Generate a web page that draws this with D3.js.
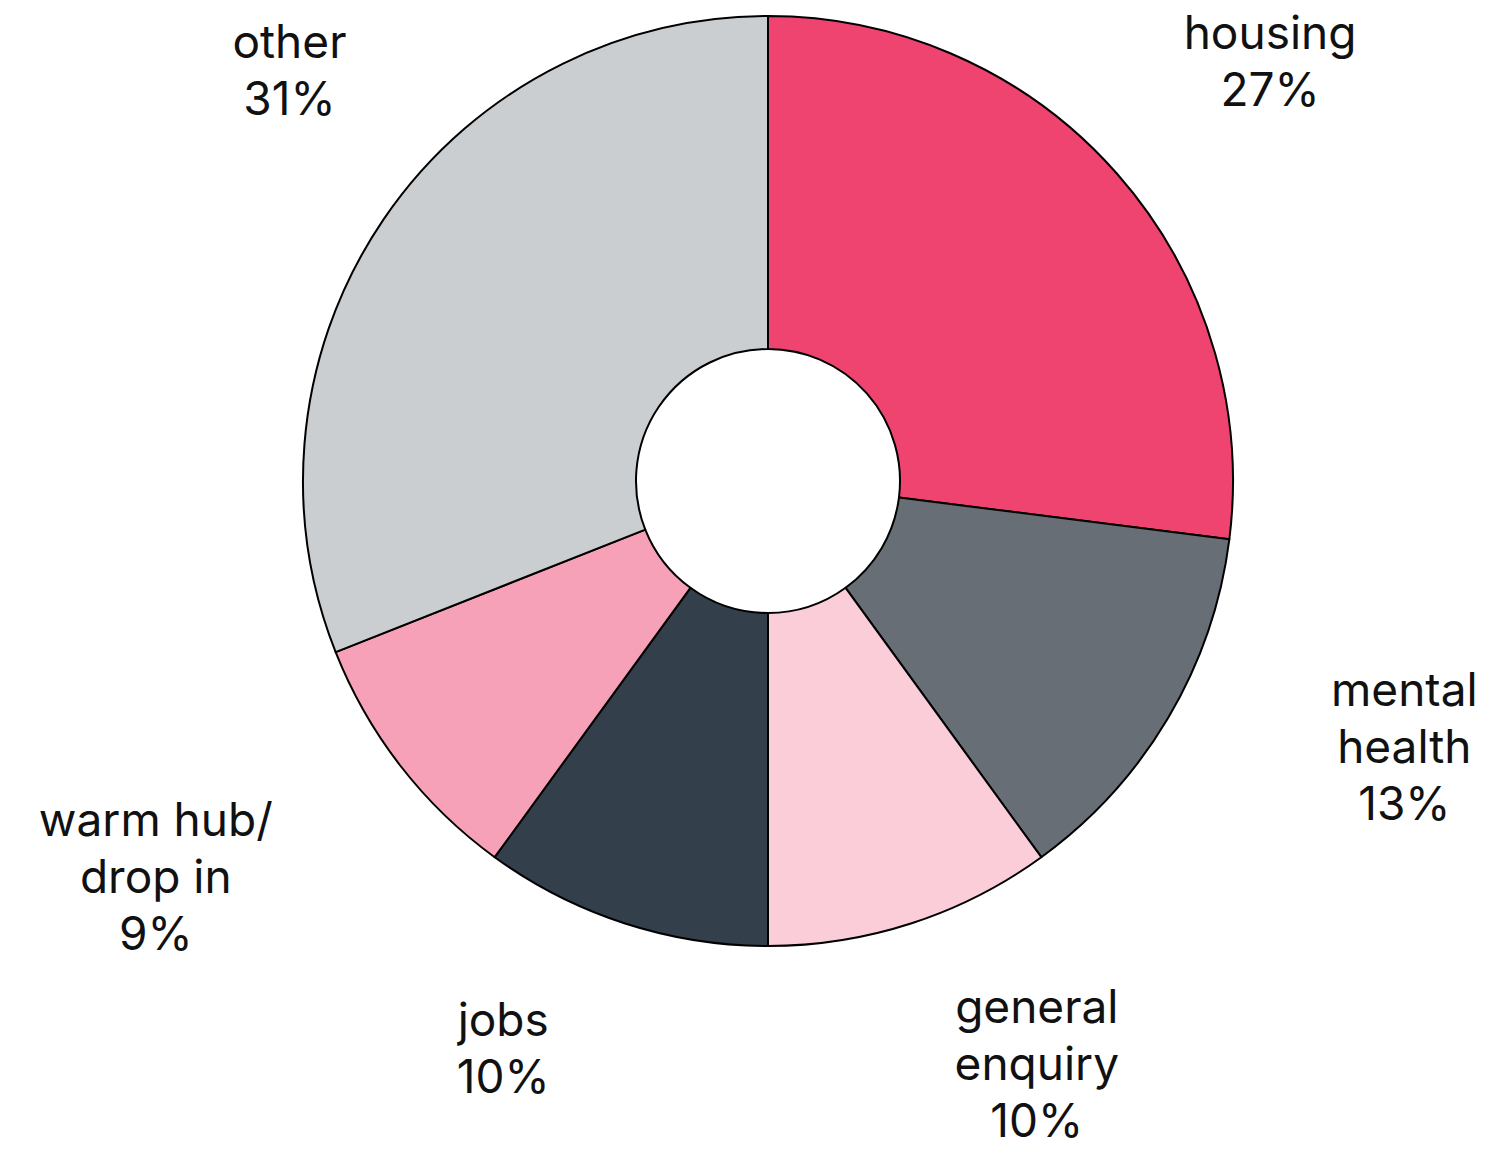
<!DOCTYPE html>
<html>
<head>
<meta charset="utf-8">
<script src="https://cdn.jsdelivr.net/npm/d3@7"></script>
<style>
  html, body { margin: 0; padding: 0; background: #fff; }
  svg text { font-family: Inter, "Open Sans", sans-serif; fill: #111; }
</style>
</head>
<body>
<div id="chart"></div>
<script>
// Enquiry topics — donut chart, clockwise from 12 o'clock.
const categories = ["housing", "mental health", "general enquiry", "jobs", "warm hub/ drop in", "other"];
const labelLines = [["housing"], ["mental", "health"], ["general", "enquiry"], ["jobs"], ["warm hub/", "drop in"], ["other"]];
const shares = [27, 13, 10, 10, 9, 31];
const colours = ["#EF4370", "#676E76", "#FACDD9", "#333F4A", "#F6A1B8", "#CBCED1"];

// label placement tweaks (degrees off slice middle, distance from centre)
const labelShift = [-0.3, -8.0, -6.5, 7.0, 3.4, 7];
const labelDist  = [586, 616, 566, 580, 625, 579];

(function () {
  const W = 1512, H = 1153;
  const CX = 768, CY = 481;
  const R = 465, R_IN = 132;
  const FS = 46, LH = 57;

  const svg = d3.select("#chart").append("svg")
    .attr("width", W).attr("height", H)
    .attr("viewBox", [0, 0, W, H]);

  const g = svg.append("g").attr("transform", `translate(${CX},${CY})`);

  const pie = d3.pie().sort(null).value(d => d);
  const arcs = pie(shares);
  const arc = d3.arc().innerRadius(R_IN).outerRadius(R);

  g.append("g").selectAll("path").data(arcs).join("path")
    .attr("d", arc)
    .attr("fill", (d, i) => colours[i])
    .attr("stroke", "#000")
    .attr("stroke-width", 2)
    .attr("stroke-linejoin", "round");

  // labels: text block sits just outside the ring along (adjusted) slice angle
  const lab = g.append("g").selectAll("text").data(arcs).join("text")
    .attr("text-anchor", "middle")
    .style("font-size", FS + "px");

  lab.each(function (d, i) {
    const t = d3.select(this);
    const lines = labelLines[i].concat([shares[i] + "%"]);
    lines.forEach((s, k) => {
      t.append("tspan").attr("x", 0).attr("y", k * LH).text(s);
    });
  });

  lab.each(function (d, i) {
    const t = d3.select(this);
    const n = labelLines[i].length + 1;
    const capH = FS * 0.73;
    const w = this.getBBox().width;
    const h = capH + (n - 1) * LH;
    const a = (d.startAngle + d.endAngle) / 2 + labelShift[i] * Math.PI / 180;
    const px = labelDist[i] * Math.sin(a);
    const py = -labelDist[i] * Math.cos(a);
    const cx = px + Math.sin(a) * w / 2;
    const cy = py - Math.cos(a) * h / 2;
    // first baseline sits capH below block top
    t.attr("transform", `translate(${cx},${cy - h / 2 + capH})`);
  });
})();
</script>
</body>
</html>
